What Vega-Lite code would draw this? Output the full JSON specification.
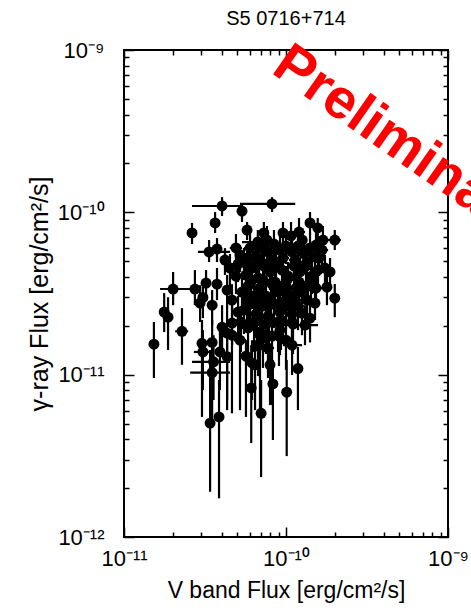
{
  "$schema": "https://vega.github.io/schema/vega-lite/v6.json",
  "width": 324,
  "height": 487,
  "autosize": {"type": "none"},
  "padding": {"left": 124, "top": 50, "right": 23, "bottom": 73},
  "background": "white",
  "title": {"text": "S5 0716+714", "fontSize": 20, "fontWeight": "normal", "font": "Liberation Sans", "color": "black", "offset": 6},
  "config": {
    "font": "Liberation Sans",
    "view": {"stroke": "black", "strokeWidth": 2},
    "axis": {
      "grid": false,
      "domain": false,
      "tickColor": "black",
      "tickWidth": 1.5,
      "labelFont": "Liberation Sans",
      "labelFontSize": 22,
      "labelColor": "black",
      "labelOverlap": false,
      "labelFlush": false,
      "labelBound": false,
      "titleFont": "Liberation Sans",
      "titleFontWeight": "normal",
      "titleColor": "black"
    }
  },
  "data": {"values": [
    {"x":8.2e-11,"xl":5.2e-11,"xh":1.14e-10,"y":1.126e-10,"yl":1.004e-10,"yh":1.24e-10},
    {"x":4.03e-11,"xl":2.63e-11,"xh":5.43e-11,"y":1.094e-10,"yl":9.5e-11,"yh":1.24e-10},
    {"x":5.35e-11,"xl":5.0e-11,"xh":5.7e-11,"y":1.016e-10,"yl":8.72e-11,"yh":1.11e-10},
    {"x":3.65e-11,"xl":3.45e-11,"xh":3.85e-11,"y":8.6e-11,"yl":7.46e-11,"yh":1.004e-10},
    {"x":2.63e-11,"xl":2.5e-11,"xh":2.76e-11,"y":7.46e-11,"yl":6.38e-11,"yh":8.6e-11},
    {"x":5.75e-11,"xl":5.45e-11,"xh":6.05e-11,"y":7.78e-11,"yl":6.75e-11,"yh":8.72e-11},
    {"x":3.35e-11,"xl":2.86e-11,"xh":4.51e-11,"y":5.7e-11,"yl":4.94e-11,"yh":6.75e-11},
    {"x":3.75e-11,"xl":3.55e-11,"xh":3.95e-11,"y":5.94e-11,"yl":4.94e-11,"yh":6.95e-11},
    {"x":4.2e-11,"xl":4.0e-11,"xh":4.4e-11,"y":5.08e-11,"yl":4.11e-11,"yh":6.02e-11},
    {"x":5.2e-11,"xl":4.95e-11,"xh":5.45e-11,"y":5.46e-11,"yl":4.29e-11,"yh":6.29e-11},
    {"x":2.01e-11,"xl":1.67e-11,"xh":2.86e-11,"y":3.37e-11,"yl":2.68e-11,"yh":4.29e-11},
    {"x":2.74e-11,"xl":2.6e-11,"xh":2.88e-11,"y":3.37e-11,"yl":2.68e-11,"yh":4.41e-11},
    {"x":3.21e-11,"xl":3.05e-11,"xh":3.37e-11,"y":3.67e-11,"yl":2.96e-11,"yh":4.41e-11},
    {"x":3.75e-11,"xl":3.57e-11,"xh":3.93e-11,"y":3.61e-11,"yl":2.88e-11,"yh":4.54e-11},
    {"x":4.33e-11,"xl":4.12e-11,"xh":4.54e-11,"y":3.32e-11,"yl":2.5e-11,"yh":4.11e-11},
    {"x":3.07e-11,"xl":2.92e-11,"xh":3.22e-11,"y":2.99e-11,"yl":2.23e-11,"yh":3.83e-11},
    {"x":2.95e-11,"xl":2.8e-11,"xh":3.1e-11,"y":2.76e-11,"yl":2.11e-11,"yh":3.56e-11},
    {"x":3.5e-11,"xl":3.33e-11,"xh":3.67e-11,"y":2.68e-11,"yl":2.02e-11,"yh":3.32e-11},
    {"x":1.77e-11,"xl":1.69e-11,"xh":1.85e-11,"y":2.43e-11,"yl":1.83e-11,"yh":3.18e-11},
    {"x":1.87e-11,"xl":1.78e-11,"xh":1.96e-11,"y":2.26e-11,"yl":1.42e-11,"yh":3.0e-11},
    {"x":2.28e-11,"xl":2.07e-11,"xh":2.49e-11,"y":1.85e-11,"yl":1.15e-11,"yh":2.57e-11},
    {"x":1.53e-11,"xl":1.46e-11,"xh":1.6e-11,"y":1.54e-11,"yl":9.54e-12,"yh":2.11e-11},
    {"x":3.03e-11,"xl":2.88e-11,"xh":3.18e-11,"y":1.56e-11,"yl":5.49e-12,"yh":2.17e-11},
    {"x":3.5e-11,"xl":3.33e-11,"xh":3.67e-11,"y":1.58e-11,"yl":1.04e-11,"yh":2.17e-11},
    {"x":3.07e-11,"xl":2.7e-11,"xh":3.4e-11,"y":1.38e-11,"yl":8.04e-12,"yh":1.88e-11},
    {"x":4.03e-11,"xl":3.83e-11,"xh":4.23e-11,"y":1.96e-11,"yl":1.42e-11,"yh":2.68e-11},
    {"x":4.33e-11,"xl":4.12e-11,"xh":4.54e-11,"y":1.8e-11,"yl":6.05e-12,"yh":2.5e-11},
    {"x":4.65e-11,"xl":4.42e-11,"xh":4.88e-11,"y":2.08e-11,"yl":1.52e-11,"yh":2.68e-11},
    {"x":3.57e-11,"xl":2.63e-11,"xh":4.51e-11,"y":1.2e-11,"yl":6.98e-12,"yh":1.75e-11},
    {"x":3.5e-11,"xl":2.56e-11,"xh":4.51e-11,"y":1.03e-11,"yl":5.25e-12,"yh":1.42e-11},
    {"x":3.91e-11,"xl":3.72e-11,"xh":4.1e-11,"y":1.38e-11,"yl":8.04e-12,"yh":1.88e-11},
    {"x":4.33e-11,"xl":4.12e-11,"xh":4.54e-11,"y":1.29e-11,"yl":6.98e-12,"yh":1.75e-11},
    {"x":3.4e-11,"xl":3.23e-11,"xh":3.57e-11,"y":5.03e-12,"yl":1.9e-12,"yh":1.42e-11},
    {"x":3.86e-11,"xl":3.67e-11,"xh":4.05e-11,"y":5.49e-12,"yl":1.73e-12,"yh":9.27e-12},
    {"x":6.1e-11,"xl":5.8e-11,"xh":6.4e-11,"y":8.28e-12,"yl":3.79e-12,"yh":1.52e-11},
    {"x":7.02e-11,"xl":6.68e-11,"xh":7.36e-11,"y":5.78e-12,"yl":2.34e-12,"yh":9.27e-12},
    {"x":8.3e-11,"xl":7.9e-11,"xh":8.7e-11,"y":8.77e-12,"yl":3.96e-12,"yh":1.23e-11},
    {"x":1.01e-10,"xl":9.6e-11,"xh":1.06e-10,"y":7.8e-12,"yl":3.15e-12,"yh":1.23e-11},
    {"x":1.185e-10,"xl":1.13e-10,"xh":1.24e-10,"y":1.09e-11,"yl":6.05e-12,"yh":1.48e-11},
    {"x":6.17e-11,"xl":5.87e-11,"xh":6.47e-11,"y":1.18e-11,"yl":6.98e-12,"yh":1.63e-11},
    {"x":7.97e-11,"xl":7.58e-11,"xh":8.36e-11,"y":1.15e-11,"yl":6.5e-12,"yh":1.52e-11},
    {"x":6.44e-11,"xl":6.13e-11,"xh":6.75e-11,"y":1.15e-11,"yl":6.05e-12,"yh":1.63e-11},
    {"x":1.09e-10,"xl":9.58e-11,"xh":1.255e-10,"y":1.52e-11,"yl":9.96e-12,"yh":2.17e-11},
    {"x":1.31e-10,"xl":9.58e-11,"xh":1.576e-10,"y":2.02e-11,"yl":1.52e-11,"yh":2.68e-11},
    {"x":9.18e-11,"xl":8.73e-11,"xh":9.63e-11,"y":1.88e-11,"yl":1.32e-11,"yh":2.5e-11},
    {"x":1.09e-10,"xl":1.04e-10,"xh":1.14e-10,"y":2.11e-11,"yl":1.52e-11,"yh":2.88e-11},
    {"x":1.255e-10,"xl":1.19e-10,"xh":1.32e-10,"y":2.39e-11,"yl":1.75e-11,"yh":3.09e-11},
    {"x":1.35e-10,"xl":1.28e-10,"xh":1.42e-10,"y":2.88e-11,"yl":2.17e-11,"yh":3.56e-11},
    {"x":1.51e-10,"xl":1.44e-10,"xh":1.58e-10,"y":2.76e-11,"yl":2.17e-11,"yh":3.56e-11},
    {"x":2.0e-10,"xl":1.9e-10,"xh":2.1e-10,"y":2.96e-11,"yl":2.26e-11,"yh":3.62e-11},
    {"x":1.79e-10,"xl":1.7e-10,"xh":1.88e-10,"y":3.46e-11,"yl":2.68e-11,"yh":4.41e-11},
    {"x":1.74e-10,"xl":1.65e-10,"xh":1.83e-10,"y":4.54e-11,"yl":3.56e-11,"yh":5.46e-11},
    {"x":1.87e-10,"xl":1.78e-10,"xh":1.96e-10,"y":4.29e-11,"yl":3.32e-11,"yh":5.23e-11},
    {"x":1.51e-10,"xl":1.44e-10,"xh":1.58e-10,"y":5.31e-11,"yl":4.29e-11,"yh":6.47e-11},
    {"x":2.0e-10,"xl":1.82e-10,"xh":2.18e-10,"y":6.75e-11,"yl":5.86e-11,"yh":7.78e-11},
    {"x":1.26e-10,"xl":1.2e-10,"xh":1.32e-10,"y":6.75e-11,"yl":5.7e-11,"yh":8.01e-11},
    {"x":1.407e-10,"xl":1.34e-10,"xh":1.48e-10,"y":8.6e-11,"yl":7.25e-11,"yh":1.004e-10},
    {"x":1.57e-10,"xl":1.49e-10,"xh":1.65e-10,"y":8.01e-11,"yl":6.75e-11,"yh":9.22e-11},
    {"x":7.3e-11,"xl":6.95e-11,"xh":7.65e-11,"y":7.46e-11,"yl":6.29e-11,"yh":8.72e-11},
    {"x":6.7e-11,"xl":5.35e-11,"xh":8.55e-11,"y":6.56e-11,"yl":5.46e-11,"yh":7.78e-11},
    {"x":9.58e-11,"xl":9.1e-11,"xh":1.01e-10,"y":7.46e-11,"yl":6.29e-11,"yh":8.72e-11},
    {"x":5.5e-11,"xl":5.05e-11,"xh":6.0e-11,"y":4.94e-11,"yl":3.83e-11,"yh":6.03e-11},
    {"x":6.0e-11,"xl":5.5e-11,"xh":6.54e-11,"y":6.03e-11,"yl":4.67e-11,"yh":7.35e-11},
    {"x":6.53e-11,"xl":5.99e-11,"xh":7.12e-11,"y":5.38e-11,"yl":4.17e-11,"yh":6.56e-11},
    {"x":7.11e-11,"xl":6.52e-11,"xh":7.75e-11,"y":6.03e-11,"yl":4.67e-11,"yh":7.35e-11},
    {"x":7.74e-11,"xl":7.1e-11,"xh":8.44e-11,"y":5.7e-11,"yl":4.41e-11,"yh":6.95e-11},
    {"x":8.43e-11,"xl":7.73e-11,"xh":9.19e-11,"y":6.38e-11,"yl":4.94e-11,"yh":7.78e-11},
    {"x":9.18e-11,"xl":8.42e-11,"xh":1.0e-10,"y":5.86e-11,"yl":4.54e-11,"yh":7.15e-11},
    {"x":1.0e-10,"xl":9.17e-11,"xh":1.09e-10,"y":6.2e-11,"yl":4.8e-11,"yh":7.56e-11},
    {"x":1.089e-10,"xl":9.99e-11,"xh":1.187e-10,"y":5.7e-11,"yl":4.41e-11,"yh":6.95e-11},
    {"x":1.186e-10,"xl":1.088e-10,"xh":1.293e-10,"y":6.2e-11,"yl":4.8e-11,"yh":7.56e-11},
    {"x":1.292e-10,"xl":1.185e-10,"xh":1.408e-10,"y":5.54e-11,"yl":4.29e-11,"yh":6.75e-11},
    {"x":1.407e-10,"xl":1.29e-10,"xh":1.53e-10,"y":6.03e-11,"yl":4.67e-11,"yh":7.35e-11},
    {"x":1.532e-10,"xl":1.406e-10,"xh":1.67e-10,"y":6.29e-11,"yl":4.87e-11,"yh":7.67e-11},
    {"x":1.668e-10,"xl":1.53e-10,"xh":1.82e-10,"y":5.86e-11,"yl":4.54e-11,"yh":7.15e-11},
    {"x":5.66e-11,"xl":5.19e-11,"xh":6.17e-11,"y":4.11e-11,"yl":3.18e-11,"yh":5.01e-11},
    {"x":6.17e-11,"xl":5.66e-11,"xh":6.73e-11,"y":4.54e-11,"yl":3.51e-11,"yh":5.54e-11},
    {"x":6.72e-11,"xl":6.17e-11,"xh":7.33e-11,"y":3.94e-11,"yl":3.05e-11,"yh":4.8e-11},
    {"x":7.31e-11,"xl":6.71e-11,"xh":7.97e-11,"y":4.67e-11,"yl":3.61e-11,"yh":5.7e-11},
    {"x":7.97e-11,"xl":7.31e-11,"xh":8.69e-11,"y":4.29e-11,"yl":3.32e-11,"yh":5.23e-11},
    {"x":8.68e-11,"xl":7.96e-11,"xh":9.46e-11,"y":4.8e-11,"yl":3.72e-11,"yh":5.86e-11},
    {"x":9.45e-11,"xl":8.67e-11,"xh":1.03e-10,"y":4.41e-11,"yl":3.41e-11,"yh":5.38e-11},
    {"x":1.029e-10,"xl":9.44e-11,"xh":1.12e-10,"y":4.05e-11,"yl":3.14e-11,"yh":4.94e-11},
    {"x":1.121e-10,"xl":1.028e-10,"xh":1.22e-10,"y":4.67e-11,"yl":3.61e-11,"yh":5.7e-11},
    {"x":1.22e-10,"xl":1.12e-10,"xh":1.33e-10,"y":4.29e-11,"yl":3.32e-11,"yh":5.23e-11},
    {"x":1.329e-10,"xl":1.22e-10,"xh":1.45e-10,"y":4.67e-11,"yl":3.61e-11,"yh":5.7e-11},
    {"x":1.447e-10,"xl":1.33e-10,"xh":1.58e-10,"y":4.05e-11,"yl":3.14e-11,"yh":4.94e-11},
    {"x":1.576e-10,"xl":1.45e-10,"xh":1.72e-10,"y":4.41e-11,"yl":3.41e-11,"yh":5.38e-11},
    {"x":5.35e-11,"xl":4.91e-11,"xh":5.83e-11,"y":3.23e-11,"yl":2.5e-11,"yh":3.94e-11},
    {"x":5.83e-11,"xl":5.35e-11,"xh":6.35e-11,"y":3.51e-11,"yl":2.72e-11,"yh":4.29e-11},
    {"x":6.35e-11,"xl":5.83e-11,"xh":6.92e-11,"y":3.05e-11,"yl":2.36e-11,"yh":3.72e-11},
    {"x":6.91e-11,"xl":6.34e-11,"xh":7.53e-11,"y":3.41e-11,"yl":2.64e-11,"yh":4.17e-11},
    {"x":7.52e-11,"xl":6.9e-11,"xh":8.2e-11,"y":3.05e-11,"yl":2.36e-11,"yh":3.72e-11},
    {"x":8.2e-11,"xl":7.52e-11,"xh":8.94e-11,"y":3.61e-11,"yl":2.8e-11,"yh":4.41e-11},
    {"x":8.93e-11,"xl":8.19e-11,"xh":9.73e-11,"y":3.23e-11,"yl":2.5e-11,"yh":3.94e-11},
    {"x":9.72e-11,"xl":8.92e-11,"xh":1.06e-10,"y":3.51e-11,"yl":2.72e-11,"yh":4.29e-11},
    {"x":1.059e-10,"xl":9.72e-11,"xh":1.15e-10,"y":3.05e-11,"yl":2.36e-11,"yh":3.72e-11},
    {"x":1.153e-10,"xl":1.06e-10,"xh":1.26e-10,"y":3.41e-11,"yl":2.64e-11,"yh":4.17e-11},
    {"x":1.255e-10,"xl":1.15e-10,"xh":1.37e-10,"y":3.23e-11,"yl":2.5e-11,"yh":3.94e-11},
    {"x":1.367e-10,"xl":1.25e-10,"xh":1.49e-10,"y":3.51e-11,"yl":2.72e-11,"yh":4.29e-11},
    {"x":1.532e-10,"xl":1.41e-10,"xh":1.67e-10,"y":3.41e-11,"yl":2.64e-11,"yh":4.17e-11},
    {"x":5.5e-11,"xl":5.05e-11,"xh":6.0e-11,"y":2.5e-11,"yl":1.78e-11,"yh":3.14e-11},
    {"x":6.0e-11,"xl":5.5e-11,"xh":6.54e-11,"y":2.72e-11,"yl":1.94e-11,"yh":3.41e-11},
    {"x":6.53e-11,"xl":5.99e-11,"xh":7.12e-11,"y":2.36e-11,"yl":1.68e-11,"yh":2.96e-11},
    {"x":7.11e-11,"xl":6.52e-11,"xh":7.75e-11,"y":2.64e-11,"yl":1.88e-11,"yh":3.32e-11},
    {"x":7.74e-11,"xl":7.1e-11,"xh":8.44e-11,"y":2.29e-11,"yl":1.63e-11,"yh":2.88e-11},
    {"x":8.43e-11,"xl":7.73e-11,"xh":9.19e-11,"y":2.72e-11,"yl":1.94e-11,"yh":3.41e-11},
    {"x":9.18e-11,"xl":8.42e-11,"xh":1.0e-10,"y":2.43e-11,"yl":1.73e-11,"yh":3.05e-11},
    {"x":1.0e-10,"xl":9.17e-11,"xh":1.09e-10,"y":2.64e-11,"yl":1.88e-11,"yh":3.32e-11},
    {"x":1.089e-10,"xl":9.99e-11,"xh":1.187e-10,"y":2.36e-11,"yl":1.68e-11,"yh":2.96e-11},
    {"x":1.186e-10,"xl":1.088e-10,"xh":1.293e-10,"y":2.64e-11,"yl":1.88e-11,"yh":3.32e-11},
    {"x":1.407e-10,"xl":1.29e-10,"xh":1.53e-10,"y":2.23e-11,"yl":1.58e-11,"yh":2.8e-11},
    {"x":5.83e-11,"xl":5.35e-11,"xh":6.35e-11,"y":1.94e-11,"yl":1.27e-11,"yh":2.43e-11},
    {"x":6.35e-11,"xl":5.83e-11,"xh":6.92e-11,"y":2.11e-11,"yl":1.38e-11,"yh":2.64e-11},
    {"x":6.91e-11,"xl":6.34e-11,"xh":7.53e-11,"y":1.83e-11,"yl":6.05e-12,"yh":2.29e-11},
    {"x":7.52e-11,"xl":6.9e-11,"xh":8.2e-11,"y":2.05e-11,"yl":1.34e-11,"yh":2.57e-11},
    {"x":8.2e-11,"xl":7.52e-11,"xh":8.94e-11,"y":1.73e-11,"yl":6.5e-12,"yh":2.17e-11},
    {"x":8.93e-11,"xl":8.19e-11,"xh":9.73e-11,"y":2.11e-11,"yl":1.38e-11,"yh":2.64e-11},
    {"x":1.0e-10,"xl":9.17e-11,"xh":1.09e-10,"y":1.63e-11,"yl":1.07e-11,"yh":2.05e-11},
    {"x":5.2e-11,"xl":4.77e-11,"xh":5.67e-11,"y":1.63e-11,"yl":6.05e-12,"yh":2.05e-11},
    {"x":6.72e-11,"xl":6.17e-11,"xh":7.33e-11,"y":1.5e-11,"yl":9.8e-12,"yh":1.88e-11},
    {"x":7.74e-11,"xl":7.1e-11,"xh":8.44e-11,"y":1.46e-11,"yl":9.54e-12,"yh":1.83e-11},
    {"x":5.66e-11,"xl":5.19e-11,"xh":6.17e-11,"y":1.3e-11,"yl":5.49e-12,"yh":1.63e-11},
    {"x":4.91e-11,"xl":4.5e-11,"xh":5.35e-11,"y":4.05e-11,"yl":3.14e-11,"yh":4.94e-11},
    {"x":4.64e-11,"xl":4.26e-11,"xh":5.06e-11,"y":2.88e-11,"yl":2.05e-11,"yh":3.61e-11},
    {"x":5.06e-11,"xl":4.64e-11,"xh":5.52e-11,"y":2.43e-11,"yl":1.73e-11,"yh":3.05e-11},
    {"x":4.51e-11,"xl":4.14e-11,"xh":4.92e-11,"y":4.54e-11,"yl":3.51e-11,"yh":5.54e-11},
    {"x":4.91e-11,"xl":4.5e-11,"xh":5.35e-11,"y":6.03e-11,"yl":4.67e-11,"yh":7.35e-11},
    {"x":4.64e-11,"xl":4.26e-11,"xh":5.06e-11,"y":1.75e-11,"yl":5.78e-12,"yh":2.23e-11},
    {"x":5.75e-11,"xl":5.28e-11,"xh":6.27e-11,"y":5.23e-11,"yl":4.05e-11,"yh":6.38e-11},
    {"x":6.82e-11,"xl":6.26e-11,"xh":7.43e-11,"y":4.94e-11,"yl":3.83e-11,"yh":6.03e-11},
    {"x":8.08e-11,"xl":7.41e-11,"xh":8.81e-11,"y":5.08e-11,"yl":3.94e-11,"yh":6.2e-11},
    {"x":9.58e-11,"xl":8.79e-11,"xh":1.044e-10,"y":5.23e-11,"yl":4.05e-11,"yh":6.38e-11},
    {"x":1.137e-10,"xl":1.043e-10,"xh":1.239e-10,"y":5.08e-11,"yl":3.94e-11,"yh":6.2e-11},
    {"x":1.348e-10,"xl":1.237e-10,"xh":1.469e-10,"y":4.94e-11,"yl":3.83e-11,"yh":6.03e-11},
    {"x":1.599e-10,"xl":1.467e-10,"xh":1.743e-10,"y":5.23e-11,"yl":4.05e-11,"yh":6.38e-11},
    {"x":6.08e-11,"xl":5.58e-11,"xh":6.63e-11,"y":3.72e-11,"yl":2.88e-11,"yh":4.54e-11},
    {"x":7.21e-11,"xl":6.61e-11,"xh":7.86e-11,"y":3.83e-11,"yl":2.96e-11,"yh":4.67e-11},
    {"x":8.55e-11,"xl":7.84e-11,"xh":9.32e-11,"y":3.72e-11,"yl":2.88e-11,"yh":4.54e-11},
    {"x":1.014e-10,"xl":9.3e-11,"xh":1.105e-10,"y":3.83e-11,"yl":2.96e-11,"yh":4.67e-11},
    {"x":1.203e-10,"xl":1.104e-10,"xh":1.311e-10,"y":3.72e-11,"yl":2.88e-11,"yh":4.54e-11},
    {"x":1.427e-10,"xl":1.309e-10,"xh":1.555e-10,"y":3.83e-11,"yl":2.96e-11,"yh":4.67e-11},
    {"x":5.75e-11,"xl":5.28e-11,"xh":6.27e-11,"y":2.88e-11,"yl":2.05e-11,"yh":3.61e-11},
    {"x":6.82e-11,"xl":6.26e-11,"xh":7.43e-11,"y":2.8e-11,"yl":1.99e-11,"yh":3.51e-11},
    {"x":8.08e-11,"xl":7.41e-11,"xh":8.81e-11,"y":2.88e-11,"yl":2.05e-11,"yh":3.61e-11},
    {"x":9.58e-11,"xl":8.79e-11,"xh":1.044e-10,"y":2.8e-11,"yl":1.99e-11,"yh":3.51e-11},
    {"x":1.137e-10,"xl":1.043e-10,"xh":1.239e-10,"y":2.88e-11,"yl":2.05e-11,"yh":3.61e-11},
    {"x":6.62e-11,"xl":6.07e-11,"xh":7.22e-11,"y":2.17e-11,"yl":1.42e-11,"yh":2.72e-11},
    {"x":7.85e-11,"xl":7.2e-11,"xh":8.56e-11,"y":2.11e-11,"yl":1.38e-11,"yh":2.64e-11},
    {"x":9.31e-11,"xl":8.54e-11,"xh":1.015e-10,"y":2.17e-11,"yl":1.42e-11,"yh":2.72e-11},
    {"x":1.105e-10,"xl":1.014e-10,"xh":1.204e-10,"y":2.05e-11,"yl":1.34e-11,"yh":2.57e-11},
    {"x":5.27e-11,"xl":4.83e-11,"xh":5.74e-11,"y":2.11e-11,"yl":1.38e-11,"yh":2.64e-11},
    {"x":7.21e-11,"xl":6.61e-11,"xh":7.86e-11,"y":1.68e-11,"yl":1.1e-11,"yh":2.11e-11},
    {"x":9.05e-11,"xl":8.3e-11,"xh":9.86e-11,"y":1.73e-11,"yl":1.13e-11,"yh":2.17e-11},
    {"x":1.074e-10,"xl":9.85e-11,"xh":1.171e-10,"y":7.15e-11,"yl":5.54e-11,"yh":8.72e-11},
    {"x":7.63e-11,"xl":7.0e-11,"xh":8.32e-11,"y":6.75e-11,"yl":5.23e-11,"yh":8.24e-11},
    {"x":1.203e-10,"xl":1.104e-10,"xh":1.311e-10,"y":7.56e-11,"yl":5.86e-11,"yh":9.22e-11},
    {"x":1.69e-10,"xl":1.55e-10,"xh":1.84e-10,"y":6.75e-11,"yl":5.23e-11,"yh":8.24e-11},
    {"x":5.06e-11,"xl":4.64e-11,"xh":5.52e-11,"y":4.8e-11,"yl":3.72e-11,"yh":5.86e-11}
  ]},
  "resolve": {"scale": {"x": "shared", "y": "shared"}, "axis": {"x": "independent", "y": "independent"}},
  "layer": [
    {
      "mark": {"type": "rule", "color": "black", "strokeWidth": 2.2},
      "encoding": {
        "x": {"field": "xl", "type": "quantitative",
          "scale": {"type": "log", "domain": [1e-11, 1e-9], "nice": false},
          "axis": {"orient": "bottom", "title": "V band Flux [erg/cm²/s]", "titleFontSize": 23,
            "values": [1e-11,2e-11,3e-11,4e-11,5e-11,6e-11,7e-11,8e-11,9e-11,1e-10,2e-10,3e-10,4e-10,5e-10,6e-10,7e-10,8e-10,9e-10,1e-9],
            "tickSize": {"condition": {"test": "abs(log(datum.value)/LN10 - round(log(datum.value)/LN10)) < 0.01", "value": -10}, "value": -5},
            "labelPadding": 21, "labelBaseline": "top", "titlePadding": 5,
            "labelExpr": "abs(log(datum.value)/LN10 - round(log(datum.value)/LN10)) < 0.01 ? (round(log(datum.value)/LN10) == -9 ? '10⁻⁹' : round(log(datum.value)/LN10) == -10 ? '10⁻¹⁰' : round(log(datum.value)/LN10) == -11 ? '10⁻¹¹' : '10⁻¹²') : ''"}},
        "x2": {"field": "xh"},
        "y": {"field": "y", "type": "quantitative",
          "scale": {"type": "log", "domain": [1e-12, 1e-9], "nice": false},
          "axis": {"orient": "left", "title": "γ-ray Flux [erg/cm²/s]", "titleFontSize": 25,
            "values": [1e-12,2e-12,3e-12,4e-12,5e-12,6e-12,7e-12,8e-12,9e-12,1e-11,2e-11,3e-11,4e-11,5e-11,6e-11,7e-11,8e-11,9e-11,1e-10,2e-10,3e-10,4e-10,5e-10,6e-10,7e-10,8e-10,9e-10,1e-9],
            "tickSize": {"condition": {"test": "abs(log(datum.value)/LN10 - round(log(datum.value)/LN10)) < 0.01", "value": -10}, "value": -5},
            "labelPadding": 30, "labelBaseline": "middle", "titlePadding": 5,
            "labelExpr": "abs(log(datum.value)/LN10 - round(log(datum.value)/LN10)) < 0.01 ? (round(log(datum.value)/LN10) == -9 ? '10⁻⁹' : round(log(datum.value)/LN10) == -10 ? '10⁻¹⁰' : round(log(datum.value)/LN10) == -11 ? '10⁻¹¹' : '10⁻¹²') : ''"}}
      }
    },
    {
      "mark": {"type": "rule", "color": "black", "strokeWidth": 2.2},
      "encoding": {
        "x": {"field": "x", "type": "quantitative", "scale": {"type": "log", "domain": [1e-11, 1e-9], "nice": false}, "axis": null},
        "y": {"field": "yl", "type": "quantitative", "scale": {"type": "log", "domain": [1e-12, 1e-9], "nice": false}, "axis": null},
        "y2": {"field": "yh"}
      }
    },
    {
      "mark": {"type": "point", "shape": "circle", "filled": true, "color": "black", "opacity": 1, "size": 120},
      "encoding": {
        "x": {"field": "x", "type": "quantitative", "scale": {"type": "log", "domain": [1e-11, 1e-9], "nice": false}, "axis": null},
        "y": {"field": "y", "type": "quantitative", "scale": {"type": "log", "domain": [1e-12, 1e-9], "nice": false}, "axis": null}
      }
    },
    {
      "data": {"values": [{"tx": 7.97e-11, "ty": 7.32e-10, "label": "Preliminary"}]},
      "mark": {"type": "text", "angle": 35, "align": "left", "baseline": "alphabetic", "fontSize": 56, "fontWeight": "bold", "font": "Liberation Sans", "color": "#ff0000"},
      "encoding": {
        "text": {"field": "label"},
        "x": {"field": "tx", "type": "quantitative", "scale": {"type": "log", "domain": [1e-11, 1e-9], "nice": false},
          "axis": {"orient": "top", "title": null, "labels": false,
            "values": [1e-11,2e-11,3e-11,4e-11,5e-11,6e-11,7e-11,8e-11,9e-11,1e-10,2e-10,3e-10,4e-10,5e-10,6e-10,7e-10,8e-10,9e-10,1e-9],
            "tickSize": {"condition": {"test": "abs(log(datum.value)/LN10 - round(log(datum.value)/LN10)) < 0.01", "value": -10}, "value": -5}}},
        "y": {"field": "ty", "type": "quantitative", "scale": {"type": "log", "domain": [1e-12, 1e-9], "nice": false},
          "axis": {"orient": "right", "title": null, "labels": false,
            "values": [1e-12,2e-12,3e-12,4e-12,5e-12,6e-12,7e-12,8e-12,9e-12,1e-11,2e-11,3e-11,4e-11,5e-11,6e-11,7e-11,8e-11,9e-11,1e-10,2e-10,3e-10,4e-10,5e-10,6e-10,7e-10,8e-10,9e-10,1e-9],
            "tickSize": {"condition": {"test": "abs(log(datum.value)/LN10 - round(log(datum.value)/LN10)) < 0.01", "value": -10}, "value": -5}}}
      }
    }
  ]
}
